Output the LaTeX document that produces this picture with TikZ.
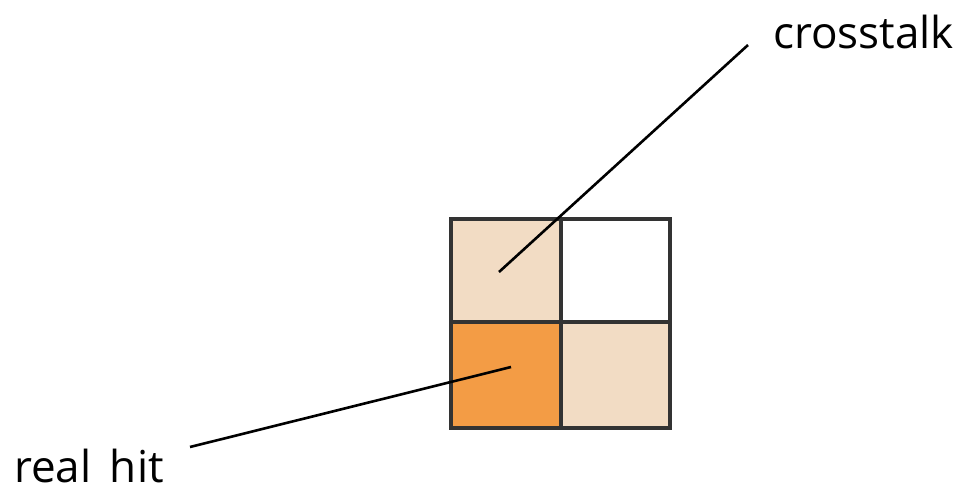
\documentclass[tikz,border=0pt]{standalone}
\usepackage{fontspec}
\setmainfont{Open Sans}
\definecolor{peach}{HTML}{F2DCC4}
\definecolor{hitorange}{HTML}{F39C45}
\definecolor{gridline}{HTML}{333333}
\begin{document}
\begin{tikzpicture}[x=1pt,y=-1pt,
  cell/.style={draw=gridline,line width=3.4pt},
  leader/.style={draw=black,line width=2.6pt},
  lbl/.style={font=\fontsize{44}{50}\selectfont,inner sep=0pt,anchor=base west,text depth=0pt}]
\useasboundingbox (0,0) rectangle (966,491);
\fill[peach] (451,219) rectangle (561,322);
\fill[white] (561,219) rectangle (670,322);
\fill[hitorange] (451,322) rectangle (561,428);
\fill[peach] (561,322) rectangle (670,428);
\draw[cell] (451,219) rectangle (670,428);
\draw[cell] (561,219) -- (561,428);
\draw[cell] (451,322) -- (670,322);
\coordinate (ct) at (499,272);
\coordinate (rh) at (511,367);
\coordinate (ctend) at (748,45);
\coordinate (rhend) at (190,447);
\node[lbl] (crosstalk) at (773,48) {crosstalk};
\node[lbl] (realhit) at (14,482) {real\hspace{0.42em}hit};
\draw[leader] (ctend) -- (ct);
\draw[leader] (rhend) -- (rh);
\end{tikzpicture}
\end{document}
